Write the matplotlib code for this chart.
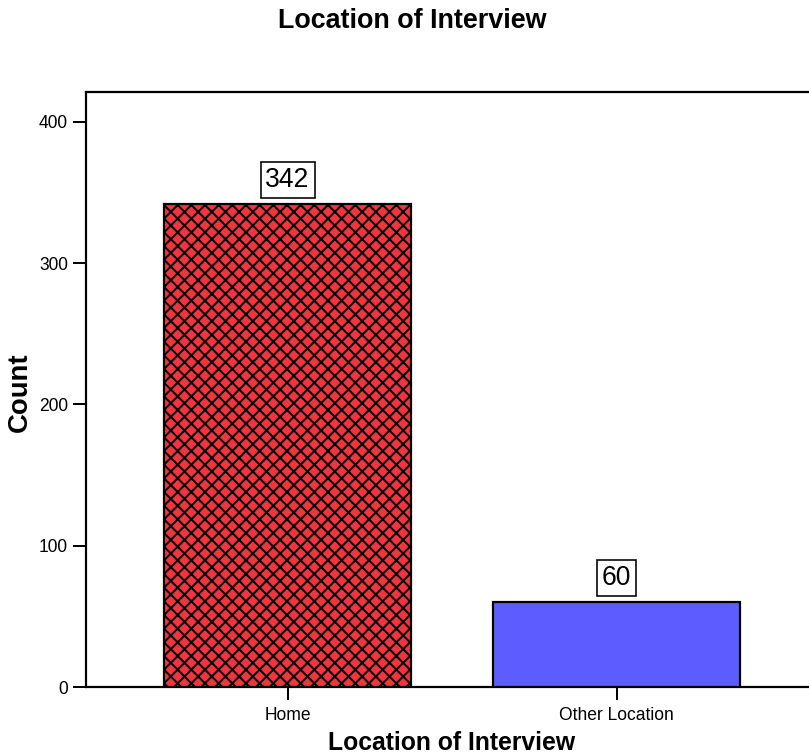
import matplotlib
matplotlib.use("Agg")
import matplotlib.pyplot as plt

categories = ["Home", "Other Location"]
counts = [342, 60]
colors = ["#F2343F", "#5C5CFF"]
hatches = ["xx", ""]
yticks = [0, 100, 200, 300, 400]

DPI = 82
W, H = 809, 755
def pt(px):
    return px * 72.0 / DPI

plt.rcParams['font.family'] = ['Liberation Sans', 'DejaVu Sans']
plt.rcParams['hatch.linewidth'] = pt(2.0)

fig = plt.figure(figsize=(W / DPI, H / DPI), dpi=DPI)
ax = fig.add_axes([86 / W, 1 - 687 / H, (817 - 86) / W, (687 - 92) / H])

x = list(range(len(categories)))
bars = ax.bar(x, counts, width=0.751, color=colors, edgecolor="black",
              linewidth=pt(2.2), zorder=3)
for b, h in zip(bars, hatches):
    b.set_hatch(h)

ax.set_xlim(-0.6125, 1.609)
ax.set_ylim(0, 421.2)
ax.set_xticks(x)
ax.set_xticklabels(categories)
ax.set_yticks(yticks)
ax.tick_params(axis='both', direction='out', length=pt(13), width=pt(2),
               labelsize=pt(17.5), colors='black')
ax.tick_params(axis='x', pad=pt(7))
ax.tick_params(axis='y', pad=pt(5))
for s in ax.spines.values():
    s.set_linewidth(pt(2.2))

for xi, v in zip(x, counts):
    ax.annotate(str(v), (xi, v), xytext=(0, pt(11)), textcoords='offset points',
                ha='center', va='bottom', fontsize=pt(26.5),
                bbox=dict(boxstyle='square,pad=0.18', fc='white', ec='black',
                          lw=pt(1.6)), zorder=5)

fig.text(412.5 / W, 1 - 21 / H, "Location of Interview", ha='center', va='center',
         fontsize=pt(26.9), fontweight='bold')
fig.text(451.5 / W, 1 - 743.5 / H, "Location of Interview", ha='center', va='center',
         fontsize=pt(24.8), fontweight='bold')
fig.text(20 / W, 1 - 392.5 / H, "Count", ha='center', va='center', rotation=90,
         fontsize=pt(27.5), fontweight='bold')

fig.savefig("out.png", dpi=DPI)
